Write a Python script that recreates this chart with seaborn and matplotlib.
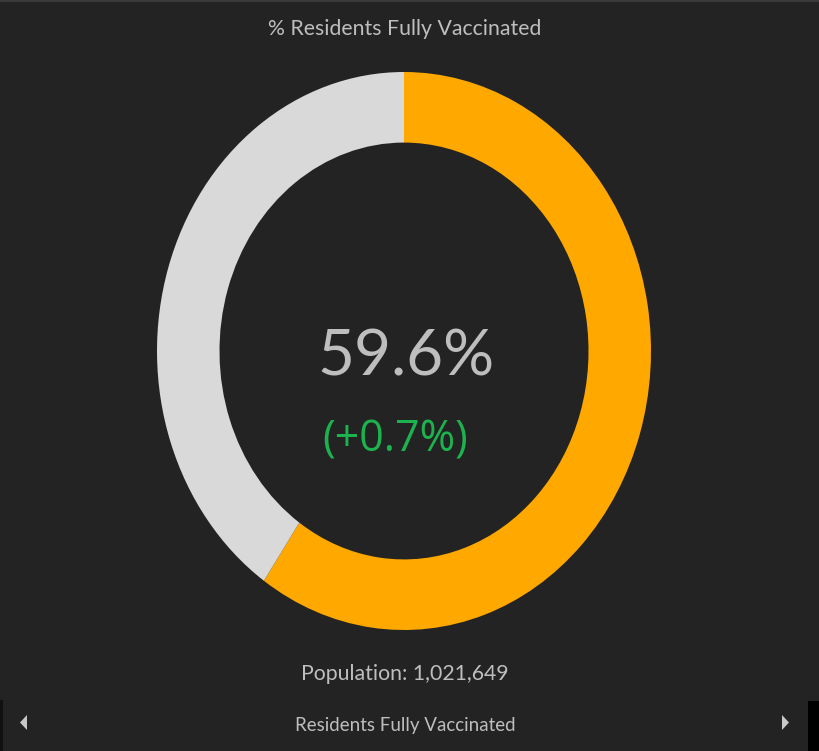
import matplotlib
matplotlib.use("Agg")
import matplotlib.pyplot as plt
import seaborn as sns
from matplotlib.patches import Rectangle, Polygon

# ---- data ----
categories = ["Fully Vaccinated", "Not Fully Vaccinated"]
values = [59.6, 40.4]
colors = ["#FFA800", "#D9D9D9"]
center_value = "59.6%"
change_label = "(+0.7%)"
title = "% Residents Fully Vaccinated"
population_label = "Population: 1,021,649"
footer_label = "Residents Fully Vaccinated"

BG = "#232323"
TXT = "#BEBEBE"
GREEN = "#1CB34F"

sns.set_theme(style="dark", rc={"axes.facecolor": BG, "figure.facecolor": BG})
plt.rcParams['font.family'] = ['Lato', 'DejaVu Sans']

W, H = 819, 751
fig = plt.figure(figsize=(W / 100, H / 100), dpi=100)
fig.patch.set_facecolor(BG)

# donut axes (slightly stretched vertically, as in the reference)
L, R, T, B = 157, 651, 72, 630
ax = fig.add_axes([L / W, 1 - B / H, (R - L) / W, (B - T) / H])
ax.set_facecolor(BG)
ax.pie(values, colors=colors, startangle=90, counterclock=False,
       radius=1.0, wedgeprops=dict(width=0.253, linewidth=0))
ax.set_aspect("auto")
ax.set_xlim(-1, 1)
ax.set_ylim(-1, 1)
ax.axis("off")

def fy(y):
    return 1 - y / H

def fx(x):
    return x / W

# top border line
fig.patches.append(Rectangle((0, fy(2)), 1, 2 / H, transform=fig.transFigure,
                             facecolor="#3A3A3A", edgecolor="none", zorder=0))
# bottom bar edges
fig.patches.append(Rectangle((0, 0), 3 / W, fy(700), transform=fig.transFigure,
                             facecolor="#111111", edgecolor="none", zorder=0))
fig.patches.append(Rectangle((fx(808), 0), 11 / W, fy(701), transform=fig.transFigure,
                             facecolor="#000000", edgecolor="none", zorder=0))
# arrows
fig.patches.append(Polygon([(fx(27), fy(715)), (fx(27), fy(730)), (fx(20), fy(722.5))],
                           closed=True, transform=fig.transFigure,
                           facecolor="#C8C8C8", edgecolor="none"))
fig.patches.append(Polygon([(fx(782), fy(715)), (fx(782), fy(730)), (fx(789), fy(722.5))],
                           closed=True, transform=fig.transFigure,
                           facecolor="#C8C8C8", edgecolor="none"))

fig.text(fx(405), fy(29), title, ha="center", va="center", color=TXT, fontsize=15.3)
fig.text(fx(406), fy(357), center_value, ha="center", va="center", color=TXT,
         fontsize=46, fontweight="normal")
fig.text(fx(395), fy(440), change_label, ha="center", va="center", color=GREEN,
         fontsize=31, family=["Open Sans", "DejaVu Sans"])
fig.text(fx(405), fy(674), population_label, ha="center", va="center", color=TXT, fontsize=15.3)
fig.text(fx(405), fy(725), footer_label, ha="center", va="center", color=TXT, fontsize=13.5)

fig.savefig("out.png", dpi=100, facecolor=BG)
